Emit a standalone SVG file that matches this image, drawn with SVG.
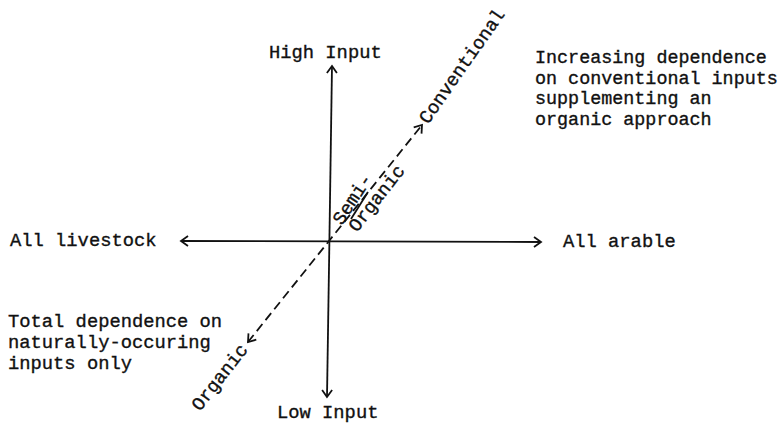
<svg xmlns="http://www.w3.org/2000/svg" width="781" height="423" viewBox="0 0 781 423">
<style>
  text { font-family: "Liberation Mono", "DejaVu Sans Mono", monospace; font-size: 18.8px; fill: #111; stroke: #111; stroke-width: 0.35; }
  .note { font-size: 18.4px; }
  .axis { stroke: #111; stroke-width: 1.8; fill: none; }
  .dash { stroke: #111; stroke-width: 1.8; fill: none; stroke-dasharray: 9 5; }
</style>
<defs>
  <marker id="arr" viewBox="-10 -8 12 16" markerWidth="12" markerHeight="16" refX="0" refY="0" orient="auto-start-reverse" markerUnits="userSpaceOnUse">
    <path d="M-7,-5 L0,0 L-7,5" fill="none" stroke="#111" stroke-width="1.8" stroke-dasharray="none"/>
  </marker>
</defs>
<rect width="781" height="423" fill="#fff"/>
<g id="connectors">
  <line class="axis" x1="329.4" y1="241" x2="332" y2="66" marker-end="url(#arr)"/>
  <line class="axis" x1="329.4" y1="241" x2="327" y2="397" marker-end="url(#arr)"/>
  <line class="axis" x1="181" y1="241" x2="541" y2="242" marker-start="url(#arr)" marker-end="url(#arr)"/>
  <line class="dash" x1="248" y1="342" x2="422" y2="125" marker-start="url(#arr)" marker-end="url(#arr)"/>
  <line class="axis" x1="351" y1="219" x2="368" y2="192" stroke-width="1.2"/>
</g>
<g id="high-input"><text x="269" y="58">High Input</text></g>
<g id="low-input"><text x="277" y="418">Low Input</text></g>
<g id="all-livestock"><text x="10" y="246">All livestock</text></g>
<g id="all-arable"><text x="563" y="247">All arable</text></g>
<g id="conventional"><text transform="translate(428,125) rotate(-55)">Conventional</text></g>
<g id="organic"><text transform="translate(200,412) rotate(-52)">Organic</text></g>
<g id="semi-organic">
  <text transform="translate(342,226) rotate(-57)">Semi-</text>
  <text transform="translate(357,233) rotate(-52)">Organic</text>
</g>
<g id="conventional-note">
  <text class="note" x="535" y="63">Increasing dependence</text>
  <text class="note" x="535" y="84">on conventional inputs</text>
  <text class="note" x="535" y="104">supplementing an</text>
  <text class="note" x="535" y="125">organic approach</text>
</g>
<g id="organic-note">
  <text x="8" y="327">Total dependence on</text>
  <text x="8" y="348">naturally-occuring</text>
  <text x="8" y="369">inputs only</text>
</g>
</svg>
